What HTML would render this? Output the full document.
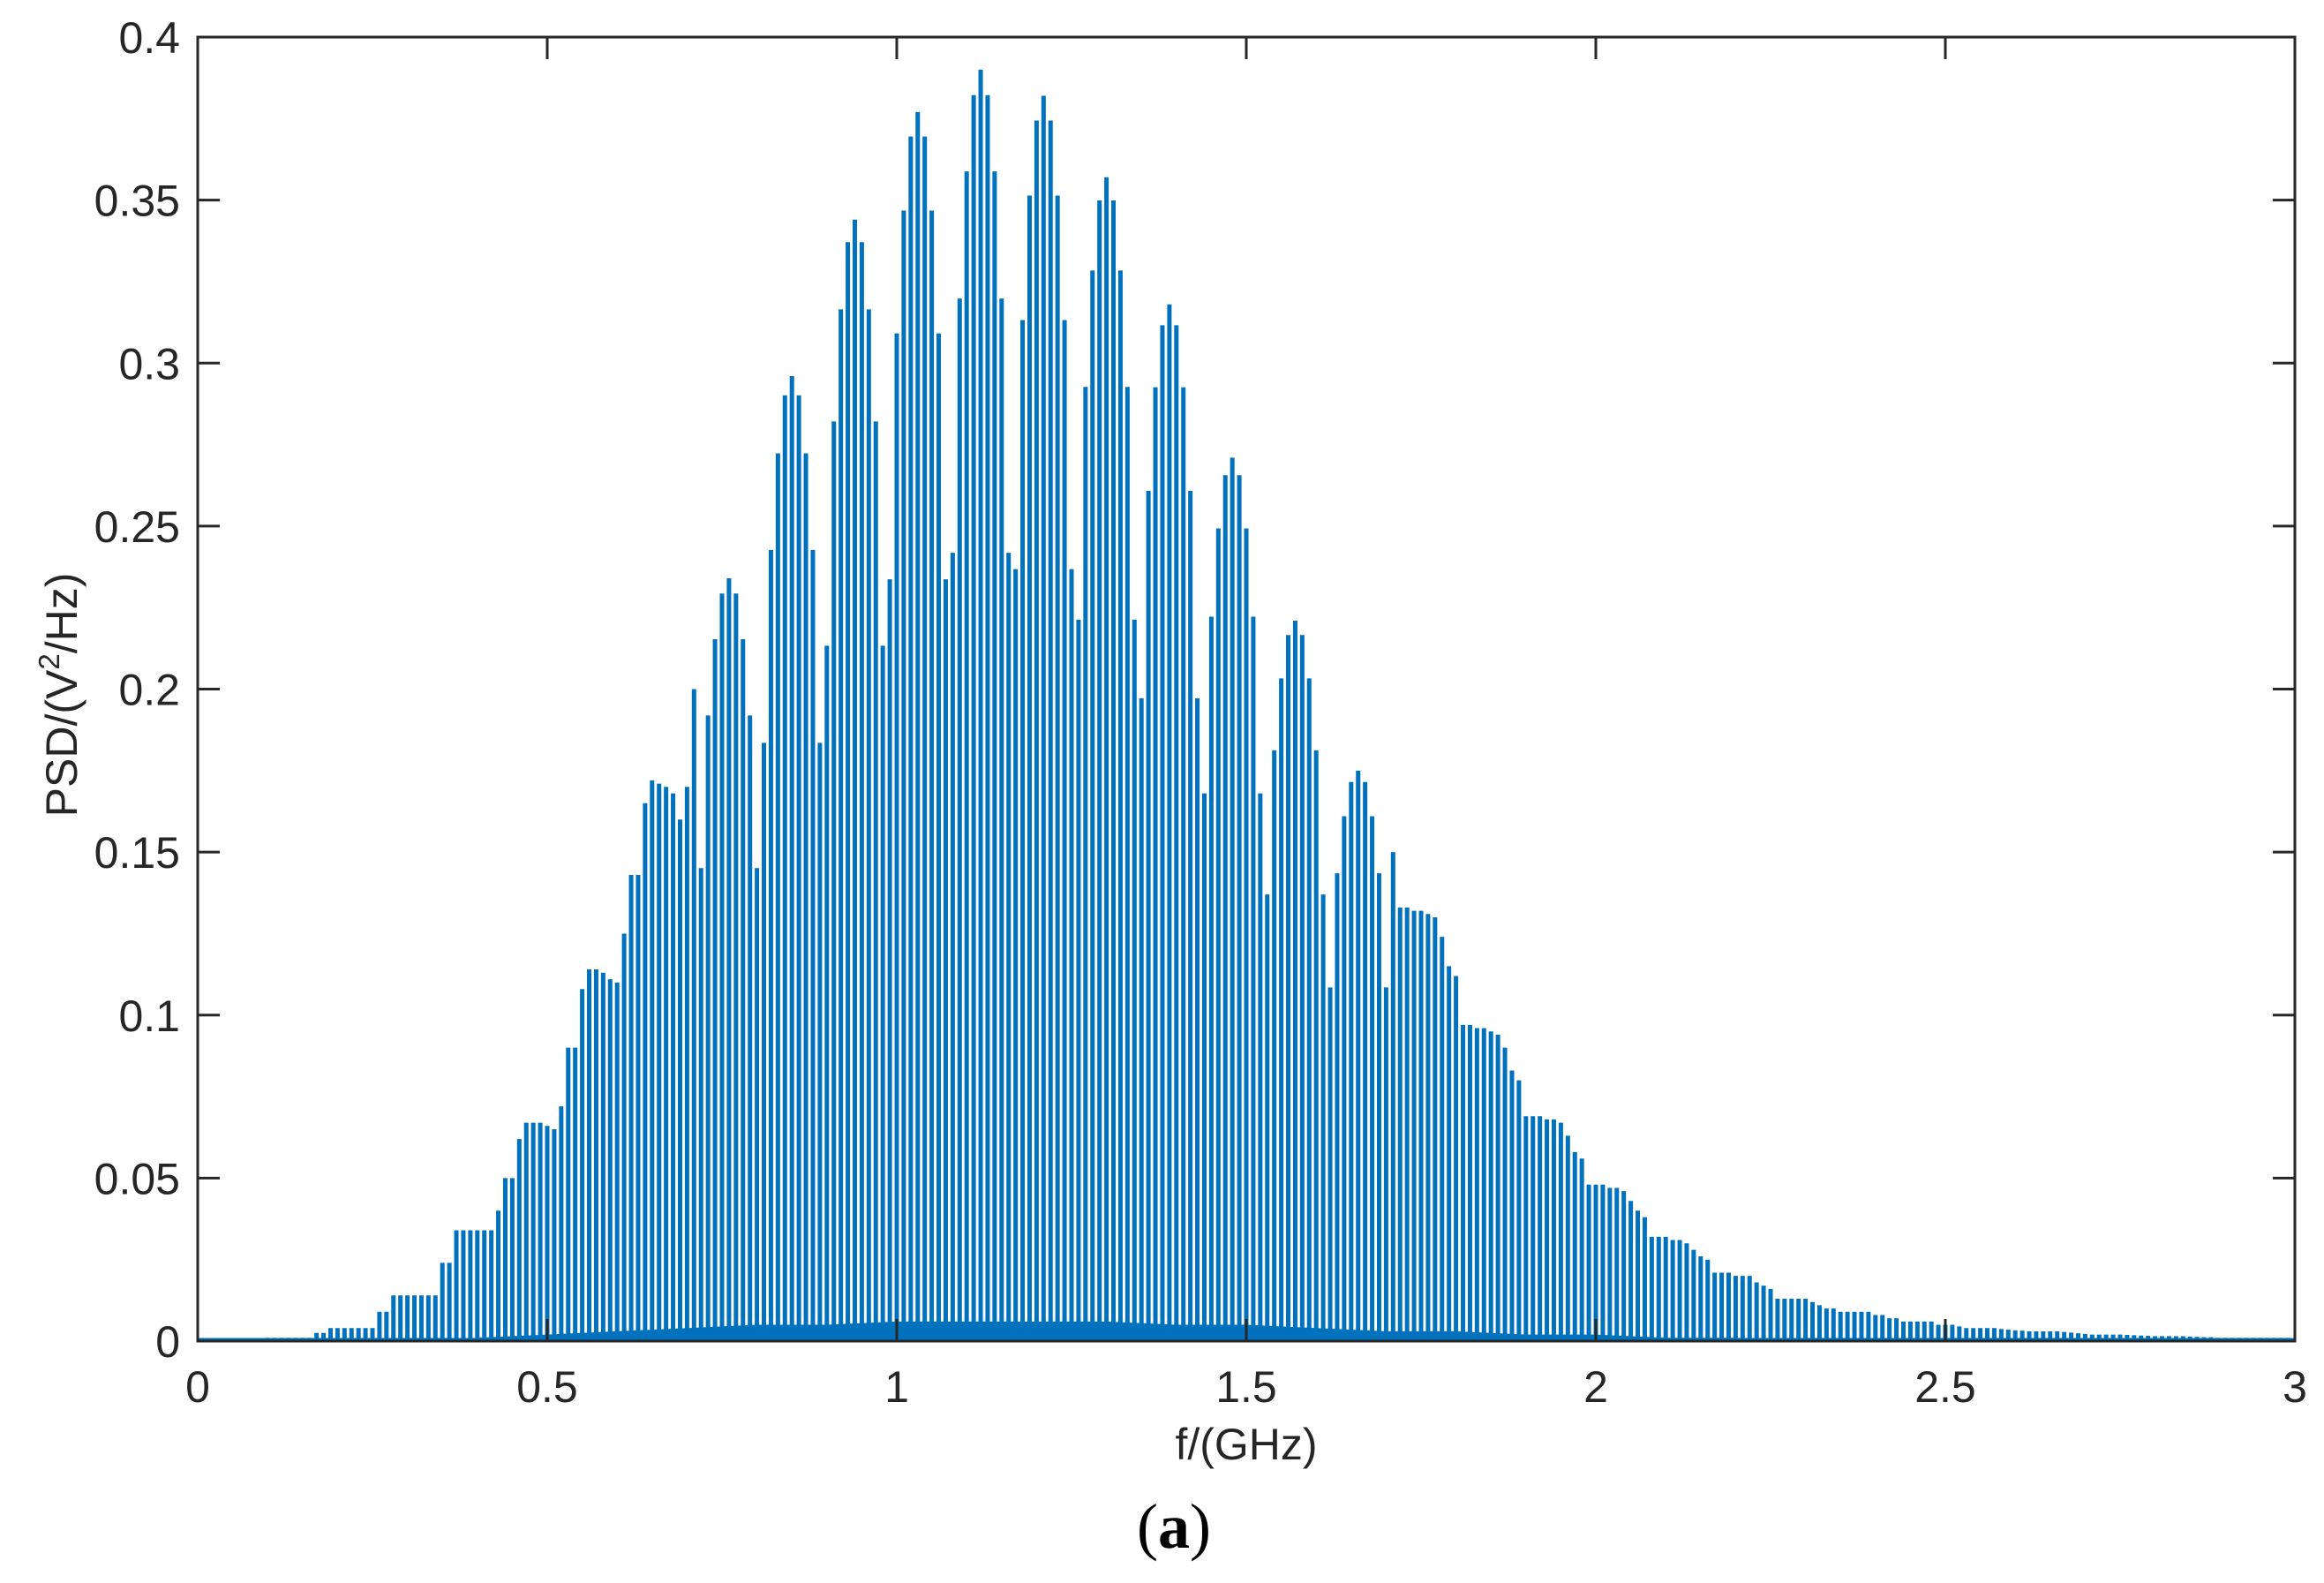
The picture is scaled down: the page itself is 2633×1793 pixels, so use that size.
<!DOCTYPE html>
<html><head><meta charset="utf-8"><style>
html,body{margin:0;padding:0;background:#fff;}
svg{display:block;}
text{font-family:"Liberation Sans",Arial,sans-serif;fill:#262626;}
</style></head><body>
<svg id="chart" width="2633" height="1793" viewBox="0 0 2633 1793" xmlns="http://www.w3.org/2000/svg">
<rect width="2633" height="1793" fill="#fff"/>
<g id="noise"></g>
<g id="spikes"></g>
<g id="axes"></g>
<text x="1412" y="1653" font-size="50" text-anchor="middle">f/(GHz)</text>
<text transform="translate(87,787) rotate(-90)" font-size="50" text-anchor="middle">PSD/(V<tspan font-size="33" dy="-20">2</tspan><tspan dy="20">/Hz)</tspan></text>
<text x="1330" y="1753" font-size="72" text-anchor="middle" style="font-family:'Liberation Serif',serif;fill:#000">(<tspan font-weight="bold">a</tspan>)</text>
</svg>
<script>
const psdStep = 0.01;
const psdValues = [
0,0,0,0,0,0,0,0,0,
.0005,.001,.001,.001,.001,.001,.001,.001,.0025,
.0025,.004,.004,.004,.004,.004,.004,.004,.009,
.009,.014,.014,.014,.014,.014,.014,.014,.024,
.024,.034,.034,.034,.034,.034,.034,.040,.050,
.050,.062,.067,.067,.067,.066,.065,.072,.090,
.090,.108,.114,.114,.113,.111,.110,.125,.143,
.143,.165,.172,.171,.170,.168,.160,.170,.200,
.1451,.1919,.2153,.2293,.234,.2293,.2153,.1919,.1451,
.1835,.2427,.2723,.2901,.296,.2901,.2723,.2427,.1835,
.2133,.2821,.3165,.3371,.344,.3371,.3165,.2821,.2133,
.2337,.3091,.3468,.3695,.377,.3695,.3468,.3091,.2337,
.2418,.3198,.3588,.3822,.390,.3822,.3588,.3198,.2418,
.2368,.3132,.3514,.3744,.382,.3744,.3514,.3132,.2368,
.2213,.2927,.3284,.3499,.357,.3499,.3284,.2927,.2213,
.1972,.2608,.2926,.3116,.318,.3116,.2926,.2608,.1972,
.1680,.2222,.2493,.2656,.271,.2656,.2493,.2222,.1680,
.1370,.1812,.2033,.2166,.221,.2166,.2033,.1812,.1370,
.1085,.1435,.1610,.1715,.175,.1715,.1610,.1435,.1085,
.150,.133,.133,.132,.132,.131,.130,.124,.115,
.112,.097,.097,.096,.096,.095,.094,.090,.083,
.080,.069,.069,.069,.068,.068,.067,.063,.058,
.056,.048,.048,.048,.047,.047,.046,.043,.040,
.038,.032,.032,.032,.031,.031,.030,.028,.026,
.025,.021,.021,.021,.020,.020,.020,.018,.017,
.016,.013,.013,.013,.013,.013,.012,.011,.010,
.010,.009,.009,.009,.009,.009,.008,.008,.007,
.007,.006,.006,.006,.006,.006,.005,.005,.005,
.0045,.004,.004,.004,.004,.004,.0037,.0035,.0033,
.0032,.003,.003,.003,.003,.003,.0028,.0026,.0024,
.0022,.002,.002,.002,.002,.002,.0019,.0018,.0017,
.0016,.0015,.0015,.0015,.0015,.0015,.0014,.0013,.0012,
.0012,.001,.001,.001,.001,.001,.001,.001,.001,
.001,.001,.001];
const noiseStep = 0.1;
const noiseValues = [0,0,0,0,0.001,0.002,0.003,0.004,0.005,0.005,0.006,0.006,0.006,0.006,0.005,0.005,0.004,0.003,0.003,0.002,0.002,0.001,0.001,0,0,0,0,0,0,0,0];
const xTicks = [0,0.5,1,1.5,2,2.5,3];
const xTickLabels = ["0","0.5","1","1.5","2","2.5","3"];
const yTicks = [0,0.05,0.1,0.15,0.2,0.25,0.3,0.35,0.4];
const yTickLabels = ["0","0.05","0.1","0.15","0.2","0.25","0.3","0.35","0.4"];

const L=224,R=2600,T=42,B=1519;
const xS=v=>L+(v-0)/(3-0)*(R-L);
const yS=v=>B-(v-0)/(0.4-0)*(B-T);
const NS="http://www.w3.org/2000/svg";
function mk(tag,attrs,parent){const e=document.createElementNS(NS,tag);for(const k in attrs)e.setAttribute(k,attrs[k]);parent.appendChild(e);return e;}

const ng=document.getElementById('noise');
let pts=[];
noiseValues.forEach((v,i)=>pts.push(xS(i*noiseStep)+','+yS(v)));
pts.push(xS((noiseValues.length-1)*noiseStep)+','+yS(0));
pts.push(xS(0)+','+yS(0));
const np=mk('polygon',{points:pts.join(' '),fill:'#0072BD'},ng);



const sg=document.getElementById('spikes');
psdValues.forEach((v,i)=>{
  if(v<=0)return;
  const x=xS(i*psdStep);
  const ln=mk('line',{x1:x,x2:x,y1:yS(0),y2:yS(v),stroke:'#0072BD','stroke-width':5},sg);
  
  
});
const bl=mk('line',{x1:xS(0),x2:xS(3),y1:yS(0)-1,y2:yS(0)-1,stroke:'#0072BD','stroke-width':5},sg);



const ag=document.getElementById('axes');
const box=mk('rect',{x:L,y:T,width:R-L,height:B-T,fill:'none',stroke:'#262626','stroke-width':3},ag);


xTicks.forEach((v,i)=>{
  const x=xS(v);
  const t1=mk('line',{x1:x,x2:x,y1:B,y2:B-25,stroke:'#262626','stroke-width':3},ag);
  
  
  const t2=mk('line',{x1:x,x2:x,y1:T,y2:T+25,stroke:'#262626','stroke-width':3},ag);
  
  
  const tx=mk('text',{x:x,y:1588,'font-size':50,'text-anchor':'middle'},ag);
  tx.textContent=xTickLabels[i];
  
  
});
yTicks.forEach((v,i)=>{
  const y=yS(v);
  const t1=mk('line',{x1:L,x2:L+25,y1:y,y2:y,stroke:'#262626','stroke-width':3},ag);
  
  
  const t2=mk('line',{x1:R,x2:R-25,y1:y,y2:y,stroke:'#262626','stroke-width':3},ag);
  
  
  const tx=mk('text',{x:204,y:y+18,'font-size':50,'text-anchor':'end'},ag);
  tx.textContent=yTickLabels[i];
  
  
});
</script>
</body></html>
